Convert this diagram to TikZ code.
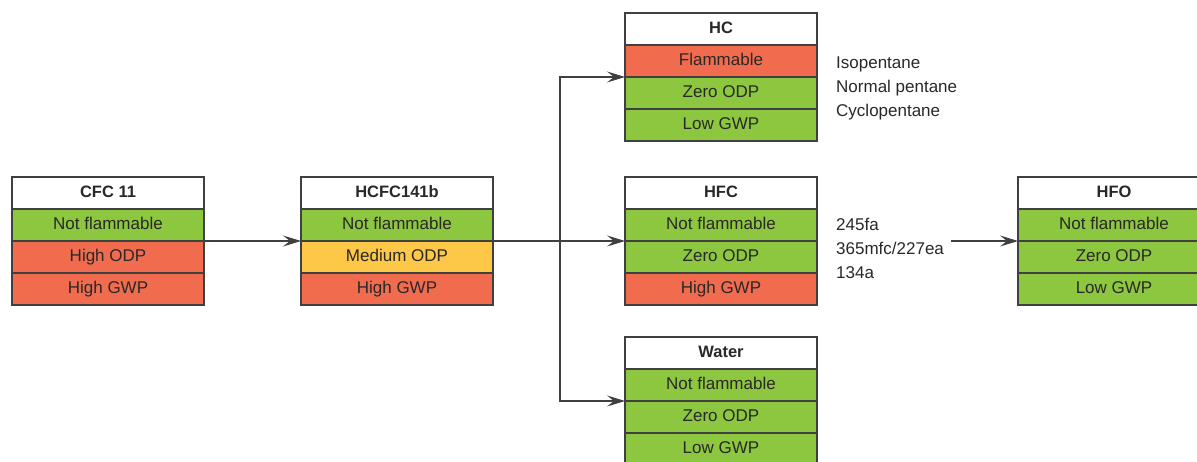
\documentclass[tikz,border=0pt]{standalone}
\usepackage{fontspec}
\setmainfont{Liberation Sans}
\usetikzlibrary{positioning,arrows.meta}

\definecolor{okgreen}{RGB}{141,198,63}
\definecolor{badred}{RGB}{241,108,79}
\definecolor{midyellow}{RGB}{253,199,72}
\definecolor{boxline}{RGB}{64,64,64}
\definecolor{txt}{RGB}{40,40,40}

\tikzset{
  cell/.style={draw=boxline, line width=1.1pt, minimum width=192pt, minimum height=32pt,
    inner sep=0pt, outer sep=0pt, text height=12.5pt, text depth=3.5pt,
    text=txt, font=\fontsize{17}{20}\selectfont},
  head/.style={cell, fill=white, font=\fontsize{16.5}{20}\selectfont\bfseries},
  ok/.style={cell, fill=okgreen},
  bad/.style={cell, fill=badred},
  mid/.style={cell, fill=midyellow},
  note/.style={align=left, inner sep=0pt, text=txt, font=\fontsize{17}{24}\selectfont},
  link/.style={draw=boxline, line width=1.1pt, -{Stealth[length=18pt,width=11pt,inset=7pt]}}
}

\begin{document}
\begin{tikzpicture}[x=1pt, y=-1pt]
  \useasboundingbox (0,0) rectangle (1197,462);

  % CFC 11
  \node[head, anchor=north west] (cfc) at (12,177) {CFC 11};
  \node[ok, below=0pt of cfc] (cfc1) {Not flammable};
  \node[bad, below=0pt of cfc1] (cfc2) {High ODP};
  \node[bad, below=0pt of cfc2] (cfc3) {High GWP};

  % HCFC141b
  \node[head, anchor=north west] (hcfc) at (301,177) {HCFC141b};
  \node[ok, below=0pt of hcfc] (hcfc1) {Not flammable};
  \node[mid, below=0pt of hcfc1] (hcfc2) {Medium ODP};
  \node[bad, below=0pt of hcfc2] (hcfc3) {High GWP};

  % HC
  \node[head, anchor=north west] (hc) at (625,13) {HC};
  \node[bad, below=0pt of hc] (hc1) {Flammable};
  \node[ok, below=0pt of hc1] (hc2) {Zero ODP};
  \node[ok, below=0pt of hc2] (hc3) {Low GWP};

  % HFC
  \node[head, anchor=north west] (hfc) at (625,177) {HFC};
  \node[ok, below=0pt of hfc] (hfc1) {Not flammable};
  \node[ok, below=0pt of hfc1] (hfc2) {Zero ODP};
  \node[bad, below=0pt of hfc2] (hfc3) {High GWP};

  % Water
  \node[head, anchor=north west] (water) at (625,337) {Water};
  \node[ok, below=0pt of water] (water1) {Not flammable};
  \node[ok, below=0pt of water1] (water2) {Zero ODP};
  \node[ok, below=0pt of water2] (water3) {Low GWP};

  % HFO
  \node[head, anchor=north west] (hfo) at (1018,177) {HFO};
  \node[ok, below=0pt of hfo] (hfo1) {Not flammable};
  \node[ok, below=0pt of hfo1] (hfo2) {Zero ODP};
  \node[ok, below=0pt of hfo2] (hfo3) {Low GWP};

  % side notes
  \node[note, anchor=west] (hclist) at (836,88) {Isopentane\\Normal pentane\\Cyclopentane};
  \node[note, anchor=west] (hfclist) at (836,248) {245fa\\365mfc/227ea\\134a};

  % arrows
  \coordinate (fork) at (560,240);
  \coordinate (hfcout) at ([xshift=7pt]hfclist.east);
  \draw[link] (cfc1.south east) -- (hcfc1.south west);
  \draw[link] (hcfc1.south east) -- (hfc1.south west);
  \draw[link] (fork) |- (hc1.south west);
  \draw[link] (fork) |- (water1.south west);
  \draw[link] (hfcout |- hfo1.south) -- (hfo1.south west);
\end{tikzpicture}
\end{document}
